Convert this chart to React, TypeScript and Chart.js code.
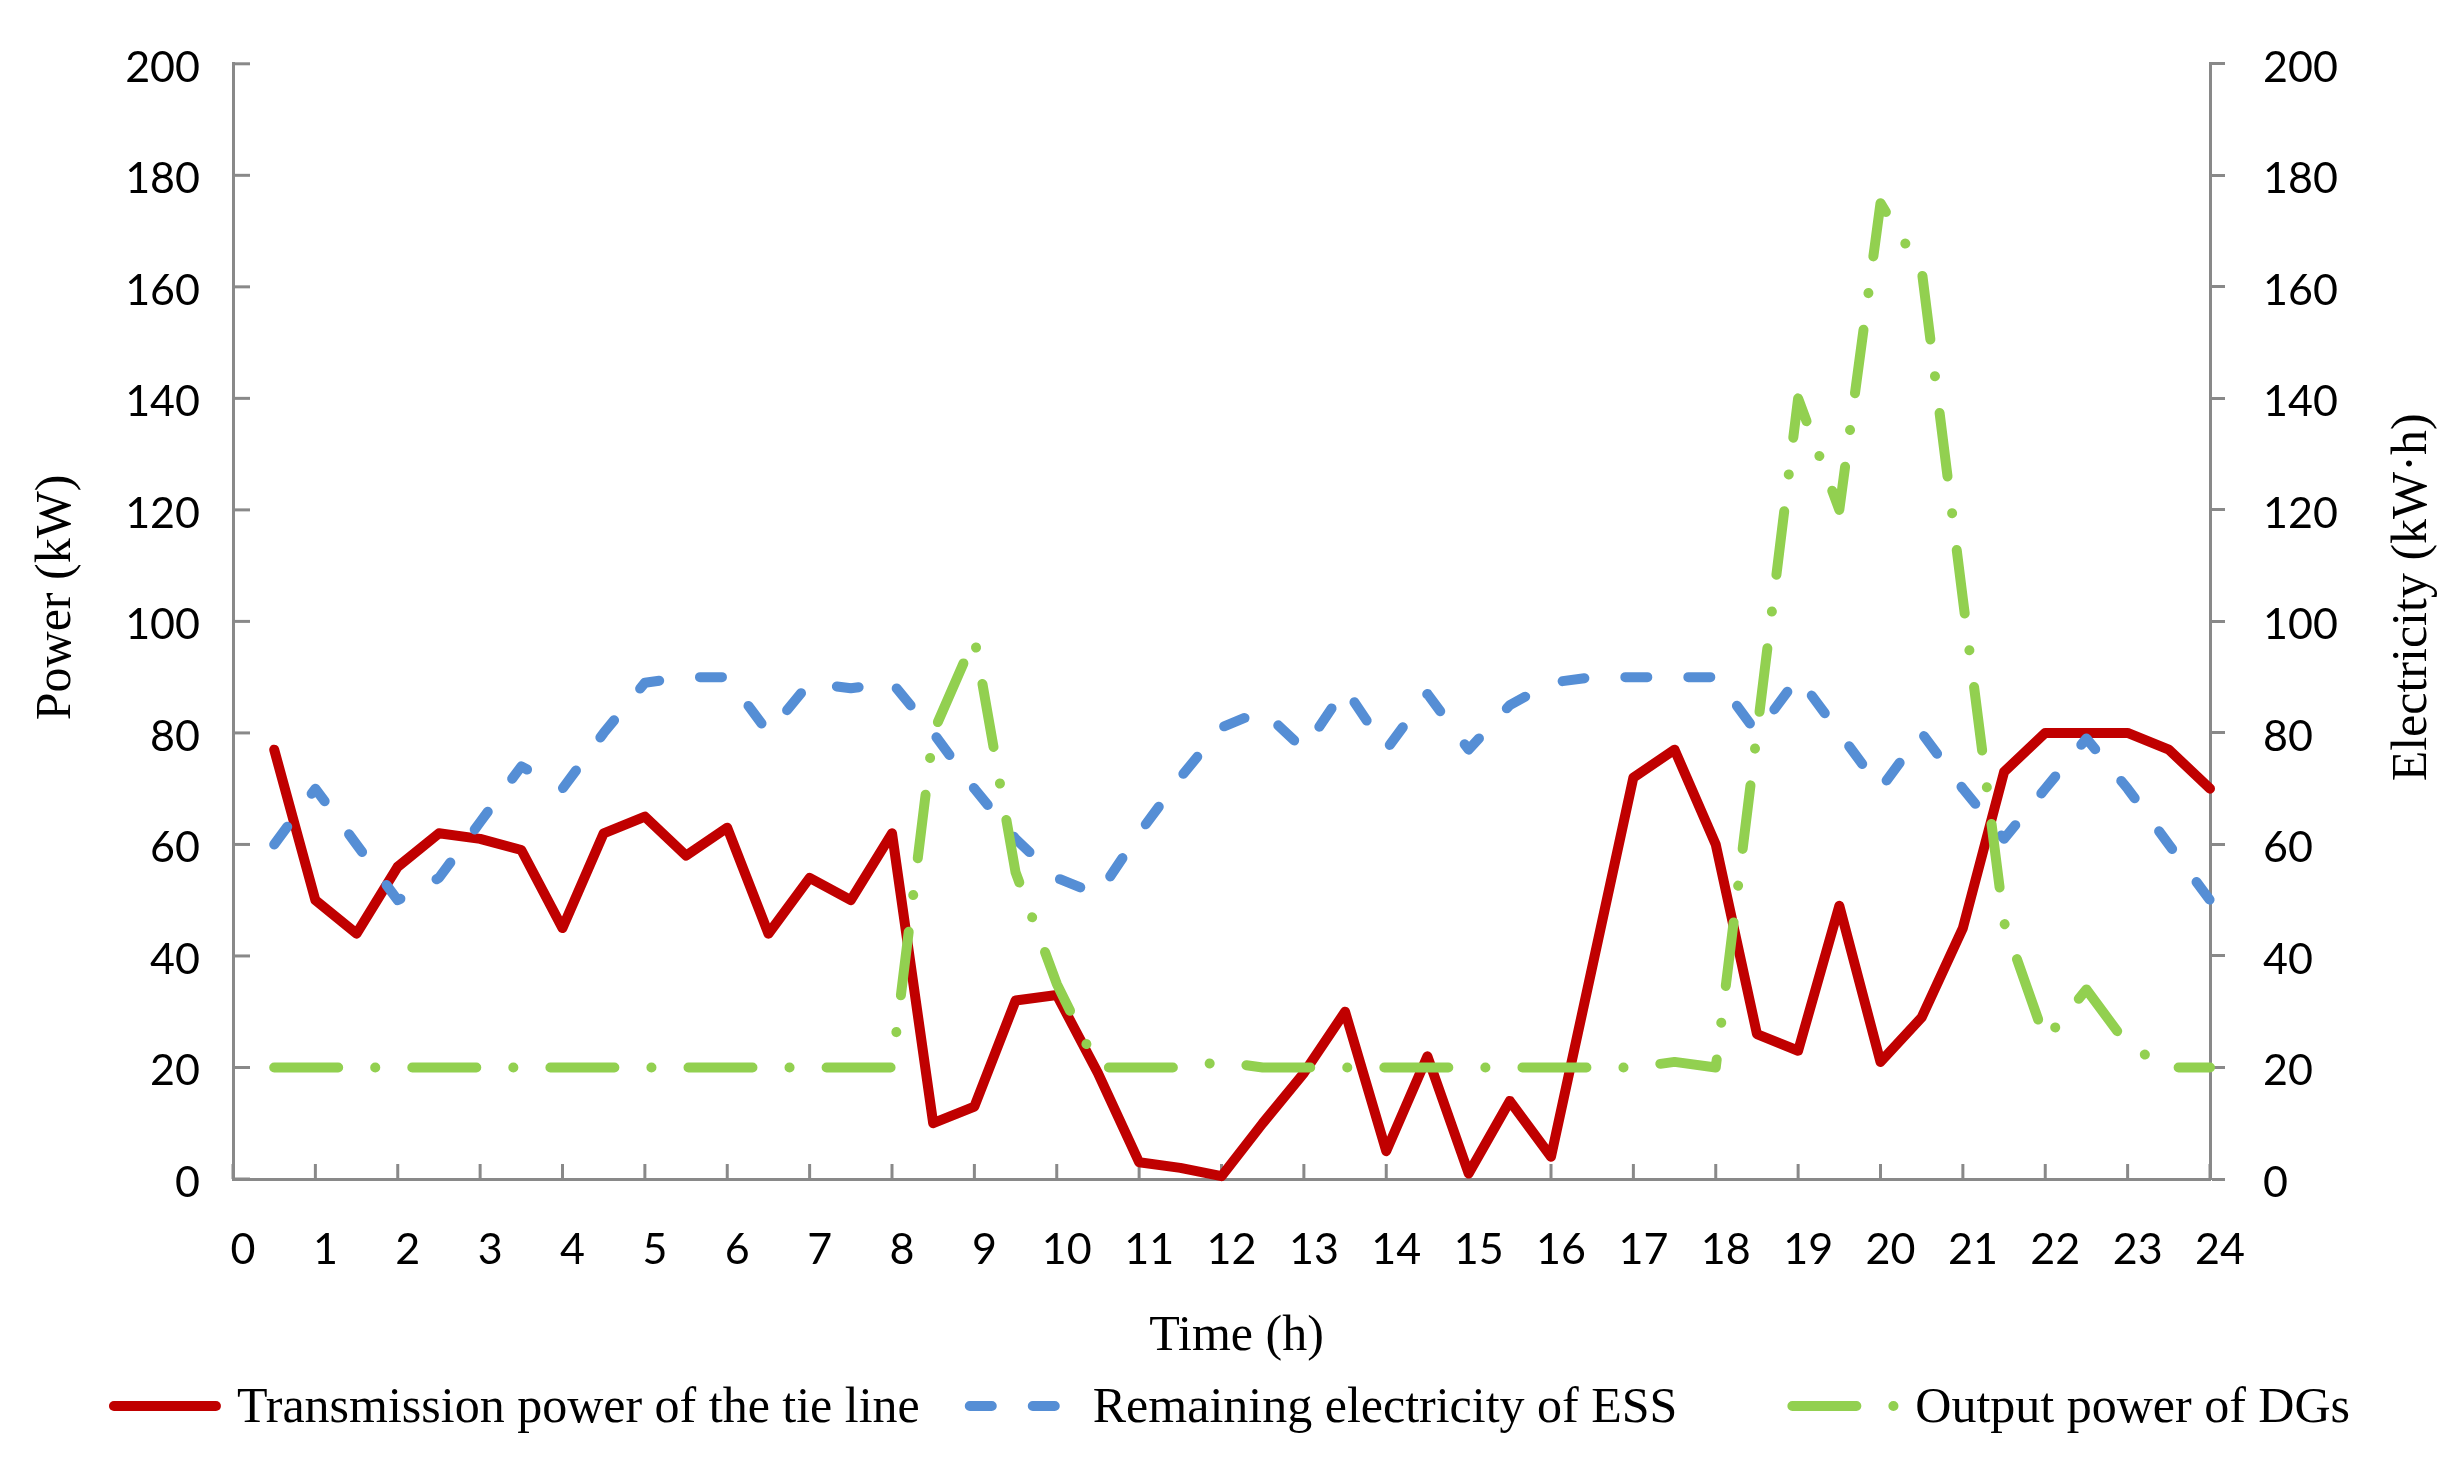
import React, { useEffect, useRef } from "react";
import { Chart, registerables } from "chart.js";

Chart.register(...registerables);

// half-hour samples, 0.5 h .. 24 h
const hours = [
  0.5, 1, 1.5, 2, 2.5, 3, 3.5, 4, 4.5, 5, 5.5, 6, 6.5, 7, 7.5, 8,
  8.5, 9, 9.5, 10, 10.5, 11, 11.5, 12, 12.5, 13, 13.5, 14, 14.5, 15, 15.5, 16,
  16.5, 17, 17.5, 18, 18.5, 19, 19.5, 20, 20.5, 21, 21.5, 22, 22.5, 23, 23.5, 24,
];

const hourTicks = [
  0, 1, 2, 3, 4, 5, 6, 7, 8, 9, 10, 11, 12, 13, 14, 15, 16, 17, 18, 19, 20, 21,
  22, 23, 24,
];
const powerTicks = [0, 20, 40, 60, 80, 100, 120, 140, 160, 180, 200];

// kW
const tieLinePower = [
  77, 50, 44, 56, 62, 61, 59, 45, 62, 65, 58, 63, 44, 54, 50, 62,
  10, 13, 32, 33, 19, 3, 2, 0.5, 10, 19, 30, 5, 22, 1, 14, 4,
  38, 72, 77, 60, 26, 23, 49, 21, 29, 45, 73, 80, 80, 80, 77, 70,
];

// kW·h
const essEnergy = [
  60, 70, 60, 50, 54, 64, 74, 70, 80, 89, 90, 90, 80, 89, 88, 89,
  80, 70, 61, 54, 51, 62, 72, 81, 84, 77, 88, 77, 87, 77, 85, 89,
  90, 90, 90, 90, 80, 90, 80, 70, 80, 70, 61, 70, 79, 70, 60, 50,
];

// kW
const dgOutput = [
  20, 20, 20, 20, 20, 20, 20, 20, 20, 20, 20, 20, 20, 20, 20, 20,
  80, 97, 55, 35, 20, 20, 20, 21, 20, 20, 20, 20, 20, 20, 20, 20,
  20, 20, 21, 20, 80, 140, 120, 175, 163, 104, 46, 25, 34, 24, 20, 20,
];

const X_TITLE = "Time (h)";
const LEFT_TITLE = "Power (kW)";
const RIGHT_TITLE = "Electricity (kW·h)";

const AXIS_COLOR = "#898989";
const TICK_FONT = "Lato, 'Open Sans', sans-serif";
const TEXT_FONT = "'Liberation Serif', 'Times New Roman', serif";

const toPoints = (values: number[]) =>
  hours.map((h, i) => ({ x: h, y: values[i] }));

const setTicks = (values: number[]) => (scale: any) => {
  scale.ticks = values.map((value) => ({ value }));
};

// inward tick marks, rotated axis titles and the line legend
const decorPlugin = {
  id: "decor",
  beforeDatasetsDraw(chart: any) {
    const { ctx, chartArea, scales } = chart;
    ctx.save();
    ctx.strokeStyle = AXIS_COLOR;
    ctx.lineWidth = 3;
    scales.x.ticks.forEach((t: any) => {
      const px = scales.x.getPixelForValue(t.value);
      ctx.beginPath();
      ctx.moveTo(px, chartArea.bottom);
      ctx.lineTo(px, chartArea.bottom - 15);
      ctx.stroke();
    });
    scales.y.ticks.forEach((t: any) => {
      const py = scales.y.getPixelForValue(t.value);
      ctx.beginPath();
      ctx.moveTo(chartArea.left, py);
      ctx.lineTo(chartArea.left + 17, py);
      ctx.stroke();
    });
    ctx.restore();
  },
  afterDraw(chart: any) {
    const { ctx, chartArea, width, height } = chart;
    const midY = (chartArea.top + chartArea.bottom) / 2 - 24;
    ctx.save();
    ctx.fillStyle = "#000";
    ctx.font = `50px ${TEXT_FONT}`;
    ctx.textAlign = "center";
    ctx.textBaseline = "alphabetic";

    ctx.fillText(X_TITLE, (chartArea.left + chartArea.right) / 2 + 15, chartArea.bottom + 171);

    [
      [70, LEFT_TITLE],
      [width - 33, RIGHT_TITLE],
    ].forEach(([x, text]) => {
      ctx.save();
      ctx.translate(x as number, midY);
      ctx.rotate(-Math.PI / 2);
      ctx.fillText(text as string, 0, 0);
      ctx.restore();
    });

    // legend (Excel leaves uneven room between the entries)
    const sample = 112;
    const gap = 16;
    const spacing = [45, 110];
    const items = chart.data.datasets.map((ds: any) => ({
      label: ds.label,
      color: ds.borderColor,
      lineWidth: ds.borderWidth,
      dash: ds.borderDash || [],
      textWidth: ctx.measureText(ds.label).width,
    }));
    const total =
      items.reduce((s: number, it: any) => s + sample + gap + it.textWidth, 0) +
      spacing.reduce((s, v) => s + v, 0);
    let x = (width - total) / 2;
    const lineY = height - 54;
    const textY = height - 38;
    ctx.textAlign = "left";
    items.forEach((it: any, i: number) => {
      ctx.beginPath();
      ctx.strokeStyle = it.color;
      ctx.lineWidth = it.lineWidth;
      ctx.lineCap = "round";
      ctx.setLineDash(it.dash);
      ctx.moveTo(x + 5, lineY);
      ctx.lineTo(x + sample - 5, lineY);
      ctx.stroke();
      ctx.setLineDash([]);
      ctx.fillText(it.label, x + sample + gap, textY);
      x += sample + gap + it.textWidth + (spacing[i] || 0);
    });
    ctx.restore();
  },
};

export default function App(): React.JSX.Element {
  const chartRef = useRef<HTMLCanvasElement | null>(null);
  const chartInstanceRef = useRef<Chart | null>(null);

  useEffect(() => {
    if (!chartRef.current) return;

    const tickFont = { family: TICK_FONT, size: 43 };
    const border = { display: true, color: AXIS_COLOR, width: 3 };

    chartInstanceRef.current = new Chart(chartRef.current, {
      type: "line",
      data: {
        datasets: [
          {
            label: "Transmission power of the tie line",
            data: toPoints(tieLinePower),
            borderColor: "#C00000",
            borderWidth: 10,
            borderCapStyle: "round",
            borderJoinStyle: "round",
            pointRadius: 0,
            yAxisID: "y",
            order: 3,
            clip: false,
          },
          {
            label: "Remaining electricity of ESS",
            data: toPoints(essEnergy),
            borderColor: "#558ED5",
            borderWidth: 10,
            borderDash: [22, 41],
            borderCapStyle: "round",
            borderJoinStyle: "round",
            pointRadius: 0,
            yAxisID: "y1",
            order: 2,
            clip: false,
          },
          {
            label: "Output power of DGs",
            data: toPoints(dgOutput),
            borderColor: "#92D050",
            borderWidth: 10,
            borderDash: [64, 37, 0.1, 37],
            borderCapStyle: "round",
            borderJoinStyle: "round",
            pointRadius: 0,
            yAxisID: "y",
            order: 1,
            clip: false,
          },
        ],
      },
      options: {
        responsive: true,
        maintainAspectRatio: false,
        animation: false,
        events: [],
        layout: { padding: { top: 62, left: 0, right: 0, bottom: 0 } },
        plugins: {
          legend: { display: false },
          tooltip: { enabled: false },
        },
        scales: {
          x: {
            type: "linear",
            min: 0,
            max: 24,
            afterBuildTicks: setTicks(hourTicks),
            afterFit: (s: any) => {
              s.height = 281;
            },
            grid: { display: false, drawTicks: false },
            border,
            ticks: {
              font: tickFont,
              color: "#000",
              padding: 45,
              labelOffset: 10,
              maxRotation: 0,
              autoSkip: false,
            },
          },
          y: {
            position: "left",
            min: 0,
            max: 200,
            afterBuildTicks: setTicks(powerTicks),
            afterFit: (s: any) => {
              s.width = 233;
            },
            grid: { display: false, drawTicks: false },
            border,
            ticks: { font: tickFont, color: "#000", padding: 33, labelOffset: 4 },
          },
          y1: {
            position: "right",
            min: 0,
            max: 200,
            afterBuildTicks: setTicks(powerTicks),
            afterFit: (s: any) => {
              s.width = 249;
            },
            grid: {
              display: true,
              drawOnChartArea: false,
              drawTicks: true,
              tickLength: 15,
              tickColor: AXIS_COLOR,
              tickWidth: 3,
            },
            border,
            ticks: { font: tickFont, color: "#000", padding: 38, labelOffset: 4 },
          },
        },
      },
      plugins: [decorPlugin],
    } as any);

    return () => {
      chartInstanceRef.current?.destroy();
    };
  }, []);

  return (
    <div
      style={{
        position: "absolute",
        left: 0,
        top: 0,
        width: 2459,
        height: 1460,
        background: "#fff",
      }}
    >
      <canvas ref={chartRef} />
    </div>
  );
}
